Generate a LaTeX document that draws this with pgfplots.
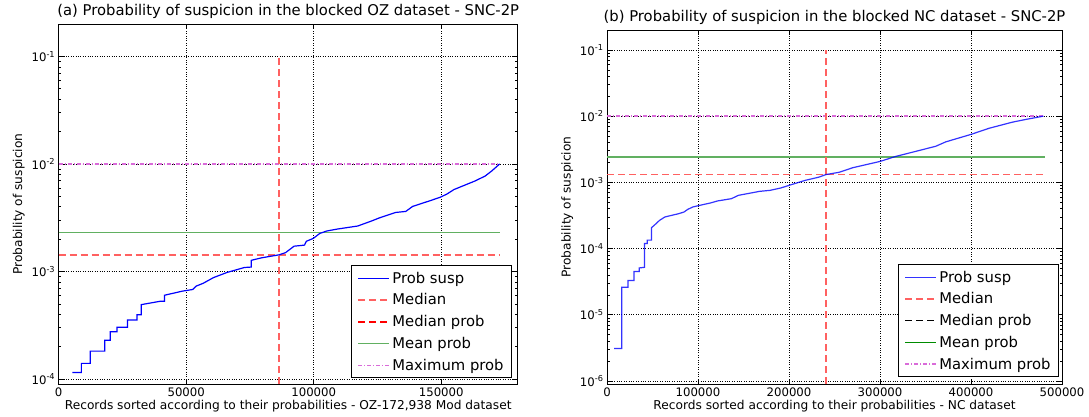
\documentclass[border=0pt]{standalone}
\usepackage{fontspec}
\setmainfont{DejaVu Sans}
\usepackage{pgfplots}
\usepackage{pgfplotstable}
\pgfplotsset{compat=1.18}

\definecolor{medred}{rgb}{1,0.38,0.38}
\definecolor{meangreen}{rgb}{0.38,0.69,0.38}
\definecolor{maxmag}{rgb}{0.85,0.42,0.85}

\tikzset{
  susp/.style={blue, line width=1.2pt},
  medl/.style={medred, line width=1.8pt, dash pattern=on 7pt off 4pt},
  meanl/.style={meangreen, line width=1.6pt},
  maxl/.style={maxmag, line width=1.4pt, dash pattern=on 4pt off 2pt on 1pt off 2pt},
}

\pgfplotsset{
  every axis/.append style={
    scale only axis, anchor=south west,
    scaled x ticks=false,
    xtick pos=both, ytick pos=both, tick align=inside,
    major tick length=5pt, minor tick length=2.5pt,
    every tick/.style={black, line width=0.6pt},
    axis line style={line width=0.9pt},
    grid=major, major grid style={black, dotted, line width=0.6pt},
    tick label style={font=\fontsize{11.7}{13}\selectfont},
    label style={font=\fontsize{12.2}{14}\selectfont},
    xlabel style={yshift=3pt},
    title style={font=\fontsize{14.8}{17}\selectfont, yshift=-4pt},
    legend cell align=left,
    legend style={font=\fontsize{14.8}{17}\selectfont, draw=black, line width=0.8pt,
      fill=white, anchor=south east, row sep=5pt, inner xsep=6pt, inner ysep=4pt},
    legend image code/.code={\draw[##1] (0pt,0pt) -- (31pt,0pt);},
  },
}

\pgfplotstableread{
x y
5390 1.15e-4
8900 1.15e-4
8900 1.40e-4
12400 1.40e-4
12400 1.82e-4
18060 1.82e-4
18060 2.30e-4
20200 2.30e-4
20200 2.76e-4
22900 2.76e-4
22900 3.03e-4
26960 3.03e-4
26960 3.55e-4
30700 3.55e-4
30700 3.96e-4
32350 3.96e-4
32350 4.92e-4
39800 5.29e-4
41500 5.29e-4
41500 6.02e-4
48500 6.57e-4
52600 6.81e-4
53900 7.32e-4
56600 7.76e-4
60700 8.78e-4
66000 9.80e-4
72800 1.09e-3
75500 1.10e-3
75500 1.27e-3
79500 1.34e-3
86469 1.43e-3
89000 1.50e-3
92300 1.72e-3
96400 1.76e-3
97100 1.91e-3
99800 2.03e-3
102400 2.26e-3
105100 2.38e-3
109200 2.48e-3
117300 2.65e-3
122700 2.95e-3
125400 3.13e-3
132100 3.54e-3
136100 3.62e-3
138800 4.03e-3
145600 4.55e-3
149600 4.90e-3
152300 5.26e-3
155000 5.78e-3
163100 6.92e-3
167200 7.71e-3
169800 8.60e-3
172938 1.00e-2
}\ozdata

\pgfplotstableread{
x y
7700 3.09e-6
16200 3.09e-6
16200 2.60e-5
23100 2.60e-5
23100 3.30e-5
29700 3.30e-5
29700 4.50e-5
35400 4.50e-5
35400 5.10e-5
41200 5.20e-5
41200 1.19e-4
44300 1.19e-4
44300 1.34e-4
48900 1.34e-4
48900 2.07e-4
52000 2.25e-4
57800 2.67e-4
63600 3.00e-4
71300 3.18e-4
79000 3.37e-4
84700 3.57e-4
88600 3.90e-4
94400 4.25e-4
102100 4.50e-4
113600 4.88e-4
121300 5.23e-4
136700 5.67e-4
144500 6.37e-4
159900 6.98e-4
167600 7.31e-4
179100 7.57e-4
190700 8.20e-4
202200 9.20e-4
217600 1.07e-3
233000 1.20e-3
240500 1.31e-3
255200 1.42e-3
269800 1.66e-3
300000 2.07e-3
317500 2.47e-3
339400 2.94e-3
361300 3.51e-3
372300 4.09e-3
400000 5.30e-3
419700 6.55e-3
445300 8.10e-3
459900 8.90e-3
479600 1.00e-2
}\ncdata

\begin{document}
\begin{tikzpicture}
\useasboundingbox (0pt,0pt) rectangle (1089pt,416pt);

% (a) OZ dataset
\begin{axis}[
  ymode=log,
  at={(58.7pt,32pt)}, width=459pt, height=360pt,
  xmin=0, xmax=180000, ymin=9e-5, ymax=0.2,
  xtick={0,50000,100000,150000},
  xticklabels={0,50000,100000,150000},
  ytick={1e-4,1e-3,1e-2,1e-1},
  yticklabels={10\textsuperscript{-4},10\textsuperscript{-3},10\textsuperscript{-2},10\textsuperscript{-1}},
  minor ytick={9e-5,2e-4,3e-4,4e-4,5e-4,6e-4,7e-4,8e-4,9e-4,2e-3,3e-3,4e-3,5e-3,6e-3,7e-3,8e-3,9e-3,2e-2,3e-2,4e-2,5e-2,6e-2,7e-2,8e-2,9e-2,2e-1},
  title={(a) Probability of suspicion in the blocked OZ dataset - SNC-2P},
  xlabel={Records sorted according to their probabilities - OZ-172,938 Mod dataset},
  ylabel={Probability of suspicion},
  legend style={at={(0.9876,0.0167)}},
]
\addplot[maxl, forget plot] coordinates {(0,1e-2) (172938,1e-2)};
\addplot[meanl, forget plot] coordinates {(0,2.31e-3) (172938,2.31e-3)};
\addplot[medl, forget plot] coordinates {(0,1.43e-3) (172938,1.43e-3)};
\addplot[medl, forget plot] coordinates {(86469,9e-5) (86469,0.1)};
\addplot[susp, forget plot] table[x=x,y=y] {\ozdata};
\addlegendimage{susp}
\addlegendentry{Prob susp}
\addlegendimage{medl}
\addlegendentry{Median}
\addlegendimage{red, line width=1.6pt, dash pattern=on 7pt off 4pt}
\addlegendentry{Median prob}
\addlegendimage{meanl}
\addlegendentry{Mean prob}
\addlegendimage{maxl}
\addlegendentry{Maximum prob}
\end{axis}

% (b) NC dataset
\begin{axis}[
  ymode=log,
  at={(607pt,32pt)}, width=455pt, height=354pt,
  xmin=0, xmax=500000, ymin=9e-7, ymax=0.2,
  xtick={0,100000,200000,300000,400000,500000},
  xticklabels={0,100000,200000,300000,400000,500000},
  ytick={1e-6,1e-5,1e-4,1e-3,1e-2,1e-1},
  yticklabels={10\textsuperscript{-6},10\textsuperscript{-5},10\textsuperscript{-4},10\textsuperscript{-3},10\textsuperscript{-2},10\textsuperscript{-1}},
  minor ytick={9e-7,2e-6,3e-6,4e-6,5e-6,6e-6,7e-6,8e-6,9e-6,2e-5,3e-5,4e-5,5e-5,6e-5,7e-5,8e-5,9e-5,2e-4,3e-4,4e-4,5e-4,6e-4,7e-4,8e-4,9e-4,2e-3,3e-3,4e-3,5e-3,6e-3,7e-3,8e-3,9e-3,2e-2,3e-2,4e-2,5e-2,6e-2,7e-2,8e-2,9e-2,2e-1},
  title={(b) Probability of suspicion in the blocked NC dataset - SNC-2P},
  xlabel={Records sorted according to their probabilities - NC dataset},
  ylabel={Probability of suspicion},
  legend style={at={(0.9934,0.02)}},
]
\addplot[maxl, forget plot] coordinates {(0,1e-2) (481000,1e-2)};
\addplot[meanl, forget plot] coordinates {(0,2.44e-3) (481000,2.44e-3)};
\addplot[medl, forget plot] coordinates {(0,1.31e-3) (481000,1.31e-3)};
\addplot[medl, forget plot] coordinates {(240500,9e-7) (240500,0.1)};
\addplot[susp, opacity=0.8, forget plot] table[x=x,y=y] {\ncdata};
\addlegendimage{susp, opacity=0.8}
\addlegendentry{Prob susp}
\addlegendimage{medl}
\addlegendentry{Median}
\addlegendimage{black, line width=1.2pt, dash pattern=on 7pt off 4pt}
\addlegendentry{Median prob}
\addlegendimage{green!55!black, line width=1.5pt}
\addlegendentry{Mean prob}
\addlegendimage{maxl}
\addlegendentry{Maximum prob}
\end{axis}
\end{tikzpicture}
\end{document}
